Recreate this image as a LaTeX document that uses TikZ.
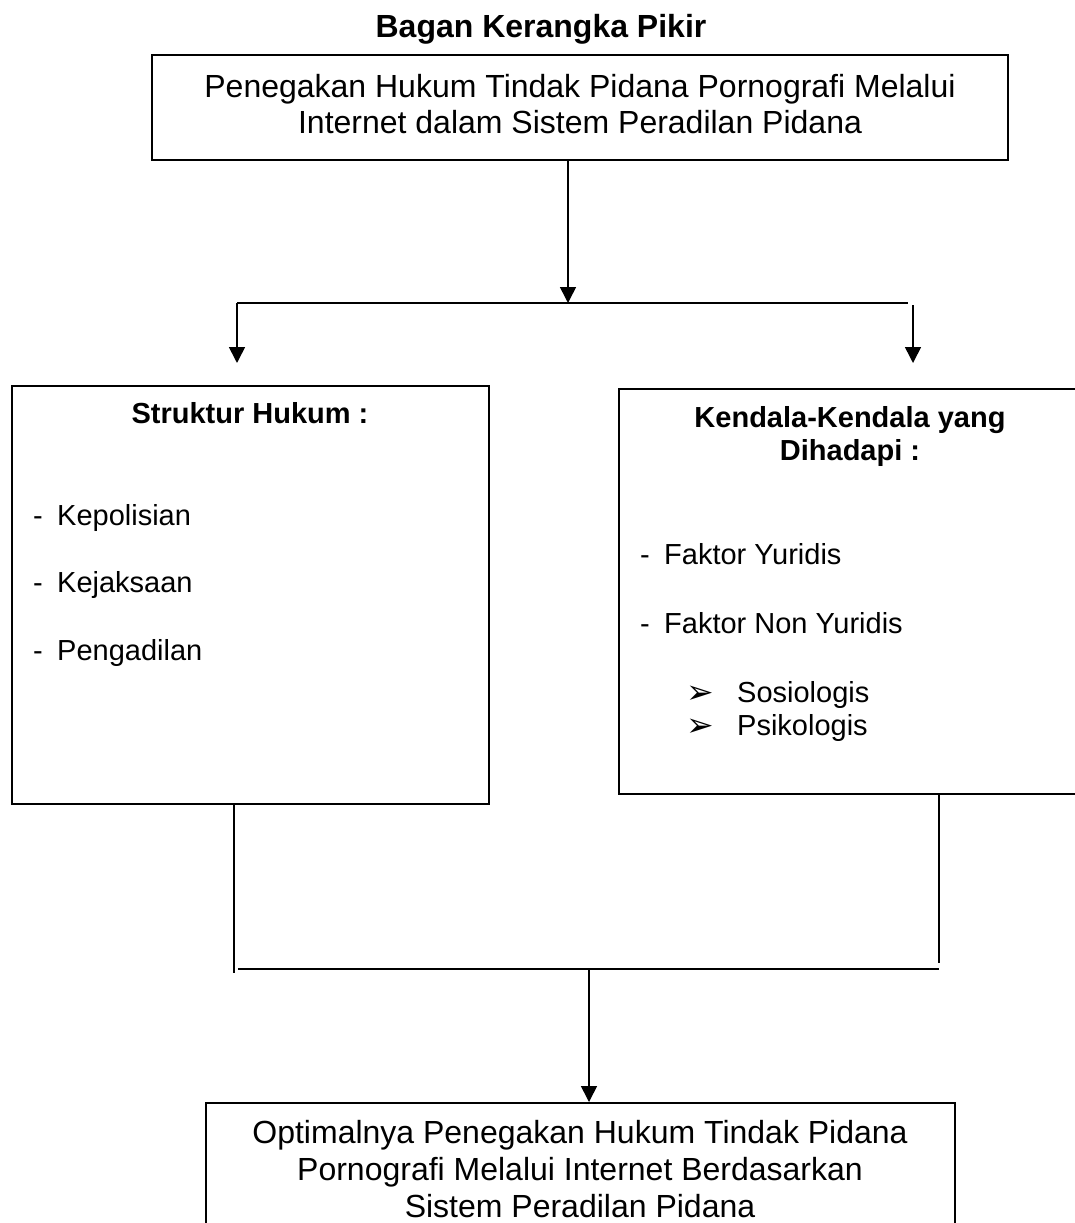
\documentclass[tikz,border=0pt]{standalone}
\usepackage{fontspec}
\setmainfont{Liberation Sans}
\newfontfamily\symfont{DejaVu Sans}
\usetikzlibrary{arrows.meta}
\begin{document}
\begin{tikzpicture}[x=1pt,y=-1pt,
  box/.style={draw, line width=2pt, inner sep=0pt},
  conn/.style={line width=1.6pt},
  arr/.style={conn, -{Triangle[length=16pt,width=16pt]}},
  big/.style={inner sep=0pt, anchor=base, font=\fontsize{32}{36}\selectfont},
  bigb/.style={big, font=\fontsize{32}{36}\selectfont\bfseries},
  mid/.style={inner sep=0pt, anchor=base west, font=\fontsize{29}{33}\selectfont},
  midc/.style={inner sep=0pt, anchor=base, font=\fontsize{29}{33}\selectfont\bfseries},
  bul/.style={inner sep=0pt, anchor=base west, font=\fontsize{33}{36}\symfont}]
\clip (0,0) rectangle (1075,1223);
\fill[white] (0,0) rectangle (1075,1223);

% title
\node[bigb] (title) at (541,38) {Bagan Kerangka Pikir};

% boxes
\node[box, minimum width=856pt, minimum height=105pt] (top) at (580,107.5) {};
\node[box, minimum width=477pt, minimum height=418pt] (left) at (250.5,595) {};
\node[box, minimum width=462pt, minimum height=405pt] (right) at (850,591.5) {};
\node[box, minimum width=749pt, minimum height=137pt] (bottom) at (580.5,1171.5) {};

% top box text
\node[big] (t1) at (580,97) {Penegakan Hukum Tindak Pidana Pornografi Melalui};
\node[big] (t2) at (580,133) {Internet dalam Sistem Peradilan Pidana};

% left box text
\node[midc] (lh) at (250,423) {Struktur Hukum :};
\node[mid] (ld1) at (33,525) {-};
\node[mid] (l1) at (57,525) {Kepolisian};
\node[mid] (ld2) at (33,592) {-};
\node[mid] (l2) at (57,592) {Kejaksaan};
\node[mid] (ld3) at (33,660) {-};
\node[mid] (l3) at (57,660) {Pengadilan};

% right box text
\node[midc] (rh1) at (850,427) {Kendala-Kendala yang};
\node[midc] (rh2) at (850,460) {Dihadapi :};
\node[mid] (rd1) at (640,564) {-};
\node[mid] (r1) at (664,564) {Faktor Yuridis};
\node[mid] (rd2) at (640,633) {-};
\node[mid] (r2) at (664,633) {Faktor Non Yuridis};
\node[bul] (rb1) at (686,703) {➢};
\node[mid] (r3) at (737,702) {Sosiologis};
\node[bul] (rb2) at (686,736) {➢};
\node[mid] (r4) at (737,735) {Psikologis};

% bottom box text
\node[big] (b1) at (580,1143) {Optimalnya Penegakan Hukum Tindak Pidana};
\node[big] (b2) at (580,1180) {Pornografi Melalui Internet Berdasarkan};
\node[big] (b3) at (580,1217) {Sistem Peradilan Pidana};

% upper connectors
\coordinate (j1) at (568,303);
\coordinate (hl) at (237,303);
\coordinate (hr) at (908,303);
\coordinate (al) at (237,363);
\coordinate (ar0) at (913,305);
\coordinate (ar) at (913,363);
\draw[arr] (top.south -| j1) -- (j1);
\draw[conn] (hl) -- (hr);
\draw[arr] (hl) -- (al);
\draw[arr] (ar0) -- (ar);

% lower connectors
\coordinate (vl) at (234,973);
\coordinate (vr) at (939,963);
\coordinate (h2l) at (238,969);
\coordinate (h2r) at (939,969);
\coordinate (j2) at (589,969);
\draw[conn] (left.south -| vl) -- (vl);
\draw[conn] (right.south -| vr) -- (vr);
\draw[conn] (h2l) -- (h2r);
\draw[arr] (j2) -- (bottom.north -| j2);
\end{tikzpicture}
\end{document}
